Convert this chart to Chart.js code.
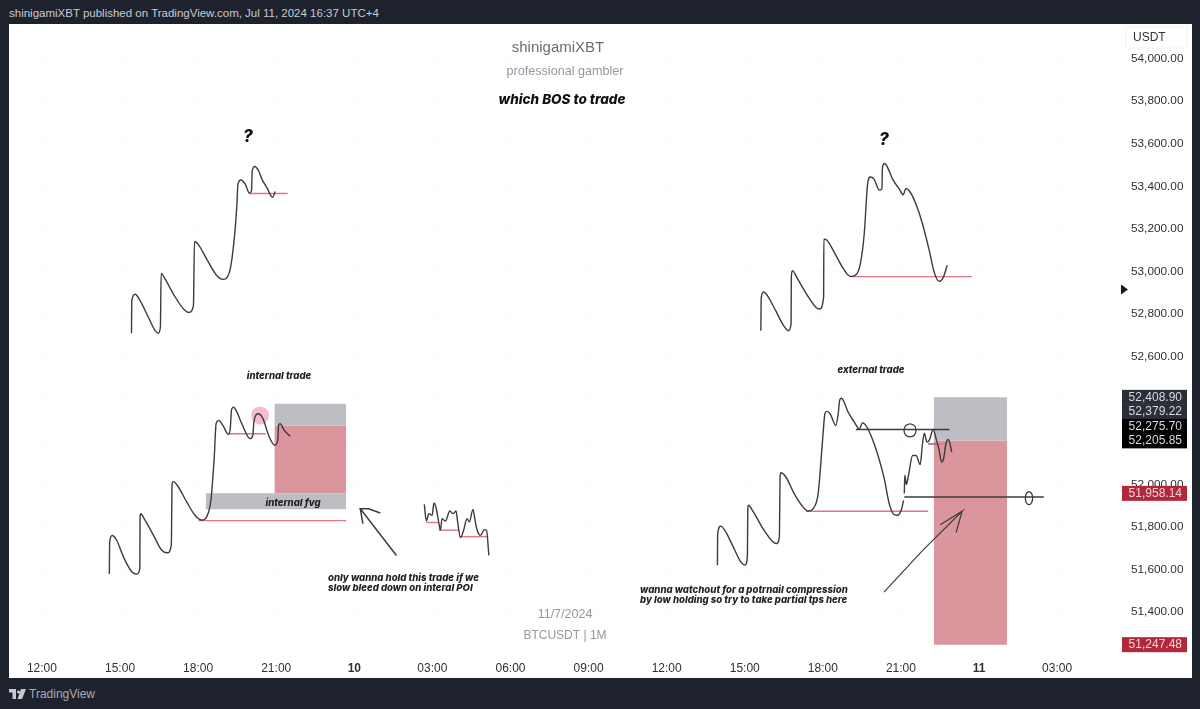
<!DOCTYPE html>
<html>
<head>
<meta charset="utf-8">
<title>which BOS to trade</title>
<script src="https://cdn.jsdelivr.net/npm/chart.js@4/dist/chart.umd.min.js"></script>
<style>
  html, body { margin: 0; padding: 0; width: 1200px; height: 709px; overflow: hidden; background: #1e222d; }
  #frame { position: absolute; left: 9px; top: 24px; width: 1183px; height: 654px; background: #fff; }
  #head { position: absolute; left: 9px; top: 7px; color: #c8cad1; font: 11.5px "Liberation Sans", sans-serif; }
  #foot { position: absolute; left: 29px; top: 687px; color: #a9acb5; font: 12px "Liberation Sans", sans-serif; }
  #logo { position: absolute; left: 9px; top: 689px; }
</style>
</head>
<body>
<div id="head">shinigamiXBT published on TradingView.com, Jul 11, 2024 16:37 UTC+4</div>
<div id="frame"><canvas id="myChart" width="1183" height="654"></canvas></div>
<svg id="logo" width="17" height="10" viewBox="0 0 17 10"><path d="M0 0h7v10H3.5V3.5H0z M8 3a1.5 1.5 0 1 0 0-.01z M12 0h5l-4 10H8.500z" fill="#c8cad1"/></svg>
<div id="foot">TradingView</div>

<script>
'use strict';

// x values are hours counted from midnight of Jul 9, y values are BTCUSDT prices
const hourTicks = [12, 15, 18, 21, 24, 27, 30, 33, 36, 39, 42, 45, 48, 51];
const hourLabels = ['12:00', '15:00', '18:00', '21:00', '10', '03:00', '06:00', '09:00', '12:00', '15:00', '18:00', '21:00', '11', '03:00'];
const priceTicks = [51400, 51600, 51800, 52000, 52200, 52400, 52600, 52800, 53000, 53200, 53400, 53600, 53800, 54000];

const topLeftHours = [15.44, 15.45, 15.58, 15.77, 16.09, 16.35, 16.47, 16.55, 16.58, 16.73, 17.05, 17.44, 17.65, 17.82, 17.86, 18.01, 18.33, 18.69, 18.95, 19.2, 19.38, 19.49, 19.53, 19.64, 19.81, 19.97, 20.05, 20.08, 20.18, 20.32, 20.45, 20.64, 20.86, 20.96];
const topLeftPrices = [52710, 52863, 52893, 52863, 52785, 52722, 52710, 52738, 52991, 52965, 52894, 52824, 52808, 52840, 53141, 53126, 53058, 52985, 52963, 52996, 53144, 53316, 53410, 53430, 53410, 53368, 53379, 53473, 53493, 53473, 53434, 53394, 53348, 53376];

const topRightHours = [39.62, 39.63, 39.72, 39.87, 40.19, 40.49, 40.68, 40.78, 40.79, 40.83, 41.03, 41.41, 41.73, 41.88, 42.03, 42.04, 42.15, 42.44, 42.76, 43.05, 43.27, 43.44, 43.59, 43.72, 43.82, 43.97, 44.17, 44.27, 44.29, 44.37, 44.49, 44.68, 44.94, 45.09, 45.19, 45.32, 45.58, 45.83, 46.09, 46.28, 46.47, 46.63, 46.78];
const topRightPrices = [52722, 52871, 52904, 52887, 52816, 52746, 52722, 52754, 52973, 53004, 52965, 52887, 52832, 52824, 52879, 53152, 53148, 53090, 53019, 52977, 52985, 53035, 53176, 53410, 53444, 53434, 53382, 53387, 53488, 53507, 53488, 53434, 53387, 53360, 53390, 53379, 53316, 53223, 53098, 52996, 52954, 52973, 53030];

const internalHours = [14.59, 14.6, 14.7, 14.87, 15.13, 15.45, 15.64, 15.76, 15.77, 15.79, 15.96, 16.28, 16.6, 16.82, 16.97, 17.0, 17.05, 17.24, 17.56, 17.88, 18.14, 18.33, 18.49, 18.62, 18.69, 18.79, 18.95, 19.17, 19.24, 19.28, 19.36, 19.46, 19.68, 20.0, 20.1, 20.15, 20.32, 20.49, 20.71, 20.94, 21.06, 21.09, 21.15, 21.31, 21.54];
const internalPrices = [51579, 51730, 51760, 51738, 51660, 51590, 51579, 51605, 51848, 51862, 51832, 51762, 51691, 51679, 51715, 52004, 52013, 51988, 51918, 51855, 51832, 51848, 51926, 52129, 52285, 52301, 52277, 52235, 52269, 52348, 52363, 52348, 52285, 52215, 52230, 52301, 52332, 52309, 52230, 52184, 52207, 52277, 52285, 52254, 52226];

const bleedHours = [26.69, 26.77, 26.86, 26.99, 27.06, 27.15, 27.24, 27.31, 27.37, 27.5, 27.67, 27.79, 27.91, 27.97, 28.08, 28.2, 28.33, 28.42, 28.56, 28.65, 28.72, 28.85, 29.0, 29.08, 29.17];
const bleedPrices = [51906, 51828, 51863, 51855, 51913, 51886, 51824, 51785, 51839, 51828, 51875, 51863, 51875, 51824, 51750, 51785, 51839, 51824, 51883, 51824, 51785, 51761, 51788, 51785, 51667];

const externalHours = [37.95, 37.96, 38.08, 38.23, 38.53, 38.85, 39.01, 39.1, 39.12, 39.14, 39.33, 39.74, 40.06, 40.22, 40.33, 40.36, 40.4, 40.58, 40.9, 41.22, 41.44, 41.67, 41.82, 41.99, 42.08, 42.15, 42.28, 42.5, 42.59, 42.65, 42.72, 42.82, 42.97, 43.21, 43.4, 43.53, 43.65, 43.85, 44.1, 44.36, 44.55, 44.72, 44.87, 45.03, 45.1];
const externalPrices = [51621, 51769, 51804, 51785, 51714, 51636, 51621, 51660, 51886, 51902, 51871, 51785, 51733, 51722, 51754, 52043, 52055, 52035, 51957, 51897, 51875, 51894, 51957, 52207, 52332, 52343, 52332, 52277, 52332, 52397, 52405, 52386, 52340, 52293, 52261, 52290, 52277, 52230, 52144, 52027, 51910, 51860, 51855, 51886, 51925];

const compressionHours = [45.13, 45.15, 45.21, 45.28, 45.45, 45.58, 45.74, 45.83, 45.9, 46.0, 46.09, 46.24, 46.35, 46.47, 46.56, 46.64, 46.73, 46.82, 46.9, 46.95];
const compressionPrices = [51957, 52043, 52000, 52035, 52136, 52136, 52093, 52191, 52241, 52199, 52207, 52258, 52215, 52160, 52105, 52121, 52191, 52211, 52183, 52152];

// horizontal levels: [start hour, end hour, price]
const redLevels = [
  [19.95, 21.44, 53366],
  [43.05, 47.72, 52976],
  [19.17, 20.6, 52238],
  [18.01, 23.69, 51830],
  [26.77, 27.24, 51821],
  [27.24, 28.01, 51785],
  [28.05, 29.1, 51755],
  [41.35, 46.05, 51874],
  [46.05, 46.8, 52191]
];
const blackLevels = [
  [43.27, 46.86, 52258],
  [45.13, 50.49, 51941],
  [46.05, 46.4, 52191]
];

// boxes: [start hour, end hour, top price, bottom price]
const grayBoxes = [
  [20.93, 23.69, 52379.22, 52275.7],
  [18.29, 23.69, 51958.14, 51883],
  [46.26, 49.08, 52408.9, 52205.85]
];
const redBoxes = [
  [20.93, 23.69, 52275.7, 51958.14],
  [46.26, 49.08, 52205.85, 51247.48]
];

const arrowOneHours = [25.62, 24.23, 24.55, 25.0, 24.55, 24.23, 24.33];
const arrowOnePrices = [51666, 51886, 51886, 51866, 51886, 51886, 51816];
const arrowTwoHours = [44.35, 45.8, 47.35, 46.51, 47.35, 47.12];
const arrowTwoPrices = [51494, 51686, 51874, 51811, 51874, 51774];

const ringOneHours = [45.35, 45.52, 45.58, 45.52, 45.35, 45.18, 45.12, 45.18, 45.35];
const ringOnePrices = [52285, 52276, 52254, 52232, 52223, 52232, 52254, 52276, 52285];
const ringTwoHours = [49.92, 50.02, 50.06, 50.02, 49.92, 49.82, 49.78, 49.82, 49.92];
const ringTwoPrices = [51967, 51958, 51936, 51914, 51905, 51914, 51936, 51958, 51967];

const tagValues = [52408.9, 52379.22, 52275.7, 52205.85, 51958.14, 51247.48];
const tagColors = ['#2a2e39', '#2a2e39', '#000000', '#000000', '#b2283a', '#b2283a'];

const inkColor = '#3c3c3e';
const redLineColor = '#df7583';
const boxGray = '#bdbec3';
const boxRed = '#da959d';


function toPoints(xs, ys) {
  const points = [];
  for (let i = 0; i < xs.length; i++) {
    points.push({ x: xs[i], y: ys[i] });
  }
  return points;
}

function curve(xs, ys) {
  return { data: toPoints(xs, ys), borderColor: inkColor, borderWidth: 1.4, pointRadius: 0, cubicInterpolationMode: 'monotone', order: 1 };
}

function stroke(xs, ys, width) {
  return { data: toPoints(xs, ys), borderColor: inkColor, borderWidth: width, pointRadius: 0, tension: 0, order: 1 };
}

function ring(xs, ys) {
  return { data: toPoints(xs, ys), borderColor: inkColor, borderWidth: 1.3, pointRadius: 0, tension: 0.4, order: 1 };
}

function level(row, color, width) {
  return { data: [{ x: row[0], y: row[2] }, { x: row[1], y: row[2] }], borderColor: color, borderWidth: width, pointRadius: 0, order: 2 };
}

function box(row, color) {
  return {
    data: [{ x: row[0], y: row[2] }, { x: row[1], y: row[2] }],
    borderWidth: 0,
    pointRadius: 0,
    backgroundColor: color,
    fill: { value: row[3] },
    order: 4
  };
}

const datasets = [];
grayBoxes.forEach(row => datasets.push(box(row, boxGray)));
redBoxes.forEach(row => datasets.push(box(row, boxRed)));
redLevels.forEach(row => datasets.push(level(row, redLineColor, 1.4)));
blackLevels.forEach(row => datasets.push(level(row, inkColor, 1.5)));

// pink marker on the internal trade high
datasets.push({ data: [{ x: 20.38, y: 52324 }], pointRadius: 9, pointBackgroundColor: '#f3bad0', pointBorderWidth: 0, showLine: false, order: 3 });

datasets.push(curve(topLeftHours, topLeftPrices));
datasets.push(curve(topRightHours, topRightPrices));
datasets.push(curve(internalHours, internalPrices));
datasets.push(curve(bleedHours, bleedPrices));
datasets.push(curve(externalHours, externalPrices));
datasets.push(curve(compressionHours, compressionPrices));
datasets.push(stroke(arrowOneHours, arrowOnePrices, 1.5));
datasets.push(stroke(arrowTwoHours, arrowTwoPrices, 1.2));
datasets.push(ring(ringOneHours, ringOnePrices));
datasets.push(ring(ringTwoHours, ringTwoPrices));


function drawText(ctx, text, x, y, font, color, align) {
  ctx.font = font;
  ctx.fillStyle = color;
  ctx.textAlign = align;
  ctx.textBaseline = 'middle';
  ctx.fillText(text, x - 9, y - 24);
}

const notesPlugin = {
  id: 'notes',
  afterDatasetsDraw(chart) {
    const ctx = chart.ctx;
    const note = 'italic 800 9.6px Inter';
    ctx.save();
    drawText(ctx, 'shinigamiXBT', 558, 48, '15px "Liberation Sans"', '#6a6d78', 'center');
    drawText(ctx, 'professional gambler', 565, 72, '12.6px "Liberation Sans"', '#9598a1', 'center');
    drawText(ctx, 'which BOS to trade', 562, 100, 'italic 800 13.5px Inter', '#111', 'center');
    drawText(ctx, '?', 248, 137, 'italic 800 17px Inter', '#111', 'center');
    drawText(ctx, '?', 884, 140, 'italic 800 17px Inter', '#111', 'center');
    drawText(ctx, 'internal trade', 279, 376, note, '#222', 'center');
    drawText(ctx, 'external trade', 871, 370, note, '#222', 'center');
    drawText(ctx, 'internal fvg', 293, 503, note, '#222', 'center');
    drawText(ctx, 'only wanna hold this trade if we', 328, 578, note, '#222', 'left');
    drawText(ctx, 'slow bleed down on interal POI', 328, 588, note, '#222', 'left');
    drawText(ctx, 'wanna watchout for a potrnail compression', 640, 590, note, '#222', 'left');
    drawText(ctx, 'by low holding so try to take partial tps here', 640, 600, note, '#222', 'left');
    drawText(ctx, '11/7/2024', 565, 615, '12.5px "Liberation Sans"', '#9598a1', 'center');
    drawText(ctx, 'BTCUSDT | 1M', 565, 636, '12px "Liberation Sans"', '#9598a1', 'center');

    // currency box over the price scale
    ctx.fillStyle = '#fff';
    ctx.strokeStyle = '#f0f2f7';
    ctx.fillRect(1126 - 9, 27 - 24, 61, 21);
    ctx.strokeRect(1126 - 9, 27 - 24, 61, 21);
    drawText(ctx, 'USDT', 1133, 38, '12px "Liberation Sans"', '#333', 'left');

    // small marker on the price scale
    const yScale = chart.scales.y;
    const markY = yScale.getPixelForValue(52915);
    ctx.fillStyle = '#131722';
    ctx.beginPath();
    ctx.moveTo(1121 - 9, markY - 5);
    ctx.lineTo(1128 - 9, markY);
    ctx.lineTo(1121 - 9, markY + 5);
    ctx.fill();

    // price tags, pushed apart like TradingView stacks them
    let last = -100;
    for (let i = 0; i < tagValues.length; i++) {
      const y = Math.max(yScale.getPixelForValue(tagValues[i]), last + 14.5);
      last = y;
      ctx.fillStyle = tagColors[i];
      ctx.fillRect(1122 - 9, y - 7.5, 65, 15);
      const label = tagValues[i].toLocaleString('en-US', { minimumFractionDigits: 2 });
      ctx.font = '12px "Liberation Sans"';
      ctx.fillStyle = i > 3 ? '#f3d5d8' : '#d8dae0';
      ctx.textAlign = 'right';
      ctx.textBaseline = 'middle';
      ctx.fillText(label, 1182 - 9, y);
    }
    ctx.restore();
  }
};

const ctx = document.getElementById('myChart').getContext('2d');
new Chart(ctx, {
  type: 'scatter',
  data: { datasets: datasets },
  options: {
    responsive: false,
    animation: false,
    showLine: true,
    parsing: false,
    plugins: { legend: { display: false }, tooltip: { enabled: false } },
    layout: { padding: 0 },
    scales: {
      x: {
        type: 'linear',
        min: 11.08,
        max: 53.34,
        afterBuildTicks(scale) {
          scale.ticks = hourTicks.map(v => ({ value: v }));
        },
        afterFit(scale) {
          scale.height = 23;
          scale.paddingLeft = 0;
          scale.paddingRight = 0;
        },
        grid: { color: '#fbfbfc', drawTicks: false },
        border: { display: false },
        ticks: {
          autoSkip: false,
          maxRotation: 0,
          padding: 6,
          color: '#2e3038',
          font(c) {
            const bold = c.tick && (c.tick.value === 24 || c.tick.value === 48);
            return { family: 'Liberation Sans', size: 12, weight: bold ? 'bold' : 'normal' };
          },
          callback(value) {
            return hourLabels[hourTicks.indexOf(value)];
          }
        }
      },
      y: {
        type: 'linear',
        position: 'right',
        min: 51199,
        max: 54120,
        afterBuildTicks(scale) {
          scale.ticks = priceTicks.map(v => ({ value: v }));
        },
        afterFit(scale) {
          scale.width = 74;
          scale.paddingTop = 0;
          scale.paddingBottom = 0;
        },
        grid: { color: '#fbfbfc', drawTicks: false },
        border: { display: false },
        ticks: {
          padding: 13,
          color: '#2e3038',
          font: { family: 'Liberation Sans', size: 11.8 },
          callback(value) {
            return value.toLocaleString('en-US', { minimumFractionDigits: 2 });
          }
        }
      }
    }
  },
  plugins: [notesPlugin]
});
</script>
</body>
</html>
